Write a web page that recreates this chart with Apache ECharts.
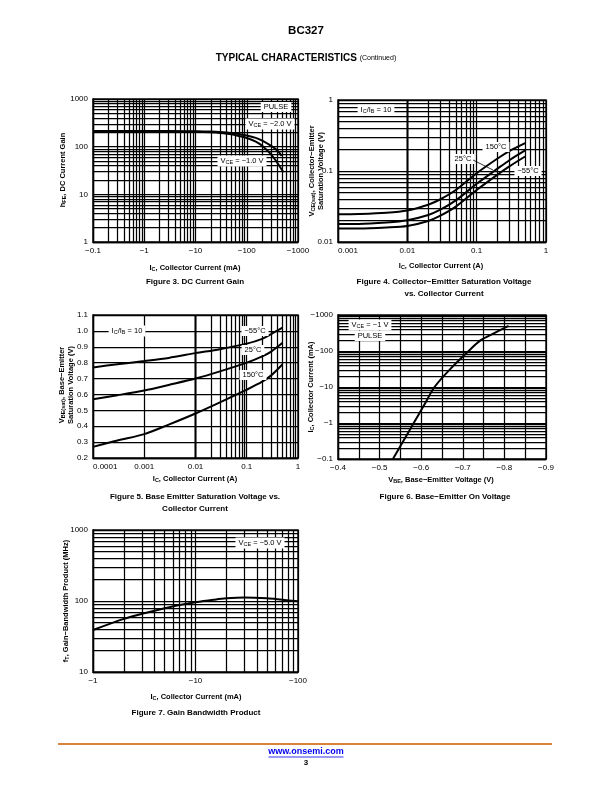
<!DOCTYPE html>
<html><head><meta charset="utf-8">
<script src="https://cdn.jsdelivr.net/npm/echarts@6/dist/echarts.min.js"></script>
<style>html,body{margin:0;padding:0;background:#fff}#c{width:612px;height:792px}</style>
</head><body><div id="c"></div>
<script>
// ---------- Figure 3: DC Current Gain ----------
const fig3Ic   = [-0.1, -0.3, -1, -3, -10, -20, -30, -50, -70, -100, -150, -200, -300, -400, -480];
const fig3Vce2 = [212, 212, 212, 212, 210, 207, 203, 194, 184, 172, 153, 134, 104, 82, 64];
const fig3Ic1  = [-0.1, -0.3, -1, -3, -10, -20, -30, -50, -70, -100, -150, -200, -300, -400, -520];
const fig3Vce1 = [207, 207, 207, 207, 205, 200, 194, 182, 168, 152, 127, 104, 68, 45, 29];
const fig3XTicks = ['−0.1', '−1', '−10', '−100', '−1000'];
const fig3YTicks = ['1', '10', '100', '1000'];

// ---------- Figure 4: VCE(sat) vs IC ----------
const fig4Ic    = [0.001, 0.002, 0.005, 0.01, 0.02, 0.03, 0.05, 0.1, 0.2, 0.3, 0.5];
const fig4T150  = [0.0245, 0.0248, 0.0258, 0.0278, 0.0335, 0.040, 0.054, 0.093, 0.150, 0.192, 0.247];
const fig4T25   = [0.018, 0.018, 0.0188, 0.0202, 0.024, 0.0285, 0.0385, 0.066, 0.108, 0.143, 0.195];
const fig4Tm55  = [0.0155, 0.0155, 0.016, 0.0168, 0.0198, 0.0235, 0.0315, 0.054, 0.089, 0.117, 0.160];

// ---------- Figure 5: VBE(sat) vs IC ----------
const fig5Ic    = [0.0001, 0.0003, 0.001, 0.003, 0.01, 0.03, 0.1, 0.2, 0.3, 0.5];
const fig5Tm55  = [0.77, 0.79, 0.81, 0.83, 0.86, 0.885, 0.92, 0.95, 0.98, 1.02];
const fig5T25   = [0.57, 0.595, 0.625, 0.66, 0.70, 0.745, 0.80, 0.84, 0.87, 0.925];
const fig5T150  = [0.27, 0.31, 0.35, 0.41, 0.48, 0.55, 0.63, 0.68, 0.72, 0.79];

// ---------- Figure 6: Base-Emitter On Voltage ----------
const fig6Vbe = [-0.532, -0.556, -0.582, -0.606, -0.632, -0.668, -0.714, -0.743, -0.772, -0.81];
const fig6Ic  = [-0.1, -0.3, -1, -3, -10, -30, -100, -200, -300, -500];

// ---------- Figure 7: Gain Bandwidth Product ----------
const fig7Ic = [-1, -2, -3, -5, -7, -10, -15, -20, -30, -50, -70, -100];
const fig7Ft = [39, 56, 66, 79, 88, 96, 104, 109, 112, 109, 104, 99];

const FONT = '"Liberation Sans", Arial, Helvetica, sans-serif';
const K = '#000';

function fmtNum(v){ return String(parseFloat(Number(v).toPrecision(6))); }
function negFmt(v){ return '\u2212' + fmtNum(v); }
function logMinors(min, max){
  const out = [];
  const a = Math.round(Math.log10(min)), b = Math.round(Math.log10(max));
  for (let e = a; e < b; e++) for (let k = 2; k <= 9; k++) out.push(parseFloat((k*Math.pow(10,e)).toPrecision(4)));
  return out;
}
function pairs(xs, ys, fx, fy){ return xs.map((x,i)=>[fx?fx(x):x, fy?fy(ys[i]):ys[i]]); }
const abs = Math.abs;

const LW = 1.25;
const BW = 1.4;
const gridStyle = {color: K, width: LW};
function axisBase(gi, type, min, max, fmt, extra, labelExtra){
  return Object.assign({
    type: type, gridIndex: gi, min: min, max: max,
    axisLine: {show: true, onZero: false, lineStyle: {color: K, width: BW}},
    axisTick: {show: false},
    splitLine: {show: true, lineStyle: gridStyle},
    axisLabel: Object.assign({color: K, fontSize: 8, fontFamily: FONT, formatter: fmt, margin: 5, showMinLabel: true, showMaxLabel: true, hideOverlap: false}, labelExtra || {}),
  }, extra || {});
}
function minorSeries(gi, xs, ys, corner){
  const data = xs.map(v=>({xAxis: v})).concat(ys.map(v=>({yAxis: v})));
  return {
    type: 'line', xAxisIndex: gi, yAxisIndex: gi, data: [corner], showSymbol: false, silent: true,
    lineStyle: {opacity: 0}, z: 1, animation: false,
    markLine: {silent: true, symbol: ['none','none'], label: {show: false}, animation: false,
      lineStyle: {color: K, width: LW, type: 'solid'}, emphasis: {disabled: true}, data: data}
  };
}
function curve(gi, data){
  return {type: 'line', xAxisIndex: gi, yAxisIndex: gi, data: data, smooth: 0.3, showSymbol: false,
    lineStyle: {color: K, width: 2}, z: 5, animation: false, silent: true};
}

const grids = [
  {left: 93, top: 99, width: 205, height: 143},
  {left: 338, top: 100, width: 208, height: 142},
  {left: 93, top: 315, width: 205, height: 143},
  {left: 338, top: 315, width: 208, height: 144},
  {left: 93, top: 530, width: 205, height: 142}
].map(g => Object.assign({show: true, borderColor: K, borderWidth: BW, backgroundColor: 'transparent', containLabel: false}, g));

const xAxes = [
  axisBase(0, 'log', 0.1, 1000, negFmt, {logBase: 10}),
  axisBase(1, 'log', 0.001, 1, fmtNum, {logBase: 10}, {alignMinLabel: 'left'}),
  axisBase(2, 'log', 0.0001, 1, fmtNum, {logBase: 10}, {alignMinLabel: 'left'}),
  axisBase(3, 'value', 0.4, 0.9, v => (Math.round(v*100) % 10 === 0 ? '\u2212' + v.toFixed(1) : ''), {interval: 0.05}),
  axisBase(4, 'log', 1, 100, negFmt, {logBase: 10})
];
const yAxes = [
  axisBase(0, 'log', 1, 1000, fmtNum, {logBase: 10}),
  axisBase(1, 'log', 0.01, 1, fmtNum, {logBase: 10}),
  axisBase(2, 'value', 0.2, 1.1, v => v.toFixed(1), {interval: 0.1}),
  axisBase(3, 'log', 0.1, 1000, negFmt, {logBase: 10}),
  axisBase(4, 'log', 10, 1000, fmtNum, {logBase: 10})
];

const series = [
  minorSeries(0, logMinors(0.1, 1000), logMinors(1, 1000), [0.1, 1]),
  curve(0, pairs(fig3Ic, fig3Vce2, abs)),
  curve(0, pairs(fig3Ic1, fig3Vce1, abs)),
  minorSeries(1, logMinors(0.001, 1), logMinors(0.01, 1), [0.001, 0.01]),
  curve(1, pairs(fig4Ic, fig4T150)),
  curve(1, pairs(fig4Ic, fig4T25)),
  curve(1, pairs(fig4Ic, fig4Tm55)),
  minorSeries(2, logMinors(0.0001, 1), [], [0.0001, 0.2]),
  curve(2, pairs(fig5Ic, fig5Tm55)),
  curve(2, pairs(fig5Ic, fig5T25)),
  curve(2, pairs(fig5Ic, fig5T150)),
  minorSeries(3, [], logMinors(0.1, 1000), [0.4, 0.1]),
  curve(3, pairs(fig6Vbe, fig6Ic, abs, abs)),
  minorSeries(4, logMinors(1, 100), logMinors(10, 1000), [1, 10]),
  curve(4, pairs(fig7Ic, fig7Ft, abs))
];

const sub = {fontSize: 5.5, fontFamily: FONT, fontWeight: 'bold', padding: [3, 0, 0, 0]};
const subN = {fontSize: 5.5, fontFamily: FONT, padding: [3, 0, 0, 0]};
function T(x, y, text, o){
  o = o || {};
  return {type: 'text', x: x, y: y, rotation: o.rot || 0, z: 100, silent: true,
    style: Object.assign({text: text, fontFamily: FONT, fontSize: o.size || 8, fontWeight: o.bold ? 'bold' : 'normal',
      fill: o.color || K, align: o.align || 'center', verticalAlign: 'middle',
      rich: {s: sub, n: subN, b: {fontSize: o.size || 8, fontFamily: FONT, fontWeight: 'bold'}, r: {fontSize: 7, fontFamily: FONT}}},
      o.box ? {backgroundColor: '#fff', padding: [1, 3, 1, 3]} : {})};
}
const R = Math.PI/2;
const graphics = [
  T(306, 31, 'BC327', {bold: true, size: 11.5}),
  T(306, 58, '{b|TYPICAL CHARACTERISTICS }{r|(Continued)}', {bold: true, size: 10}),
  // Fig 3
  T(63, 170, 'h{s|FE}, DC Current Gain', {bold: true, size: 7.5, rot: R}),
  T(195, 268, 'I{s|C}, Collector Current (mA)', {bold: true, size: 7.5}),
  T(195, 282, 'Figure 3. DC Current Gain', {bold: true, size: 8}),
  T(276, 107, 'PULSE', {size: 7.5, box: true}),
  T(270, 124, 'V{n|CE} = \u22122.0 V', {size: 7.5, box: true}),
  T(242, 161, 'V{n|CE} = \u22121.0 V', {size: 7.5, box: true}),
  // Fig 4
  T(312, 171, 'V{s|CE(sat)}, Collector\u2212Emitter', {bold: true, size: 7.5, rot: R}),
  T(321, 171, 'Saturation Voltage (V)', {bold: true, size: 7.5, rot: R}),
  T(441, 266, 'I{s|C}, Collector Current (A)', {bold: true, size: 7.5}),
  T(444, 282, 'Figure 4. Collector\u2212Emitter Saturation Voltage', {bold: true, size: 8}),
  T(444, 294, 'vs. Collector Current', {bold: true, size: 8}),
  T(376, 110, 'I{n|C}/I{n|B} = 10', {size: 7.5, box: true}),
  T(496, 147, '150\u00b0C', {size: 7.5, box: true}),
  T(463, 159, '25\u00b0C', {size: 7.5, box: true}),
  T(528, 171, '\u221255\u00b0C', {size: 7.5, box: true}),
  {type: 'line', z: 100, silent: true, shape: {x1: 473, y1: 160, x2: 493, y2: 170}, style: {stroke: K, lineWidth: 0.8}},
  // Fig 5
  T(62, 385, 'V{s|BE(sat)}, Base\u2212Emitter', {bold: true, size: 7.5, rot: R}),
  T(71, 385, 'Saturation Voltage (V)', {bold: true, size: 7.5, rot: R}),
  T(195, 479, 'I{s|C}, Collector Current (A)', {bold: true, size: 7.5}),
  T(195, 497, 'Figure 5. Base Emitter Saturation Voltage vs.', {bold: true, size: 8}),
  T(195, 509, 'Collector Current', {bold: true, size: 8}),
  T(127, 331, 'I{n|C}/I{n|B} = 10', {size: 7.5, box: true}),
  T(255, 331, '\u221255\u00b0C', {size: 7.5, box: true}),
  T(253, 350, '25\u00b0C', {size: 7.5, box: true}),
  T(253, 375, '150\u00b0C', {size: 7.5, box: true}),
  // Fig 6
  T(311, 387, 'I{s|C}, Collector Current (mA)', {bold: true, size: 7.5, rot: R}),
  T(441, 480, 'V{s|BE}, Base\u2212Emitter Voltage (V)', {bold: true, size: 7.5}),
  T(445, 497, 'Figure 6. Base\u2212Emitter On Voltage', {bold: true, size: 8}),
  T(370, 325, 'V{n|CE} = \u22121 V', {size: 7.5, box: true}),
  T(370, 336, 'PULSE', {size: 7.5, box: true}),
  // Fig 7
  T(66, 601, 'f{s|T}, Gain\u2212Bandwidth Product (MHz)', {bold: true, size: 7.5, rot: R}),
  T(196, 697, 'I{s|C}, Collector Current (mA)', {bold: true, size: 7.5}),
  T(196, 713, 'Figure 7. Gain Bandwidth Product', {bold: true, size: 8}),
  T(260, 543, 'V{n|CE} = \u22125.0 V', {size: 7.5, box: true}),
  // footer
  {type: 'line', silent: true, shape: {x1: 58, y1: 744, x2: 552, y2: 744}, style: {stroke: '#D9823B', lineWidth: 2}},
  T(306, 752, 'www.onsemi.com', {bold: true, size: 9, color: '#0000EE'}),
  {type: 'line', silent: true, shape: {x1: 268.5, y1: 757, x2: 343.5, y2: 757}, style: {stroke: '#0000EE', lineWidth: 0.8}},
  T(306, 763, '3', {bold: true, size: 8})
];

const chart = echarts.init(document.getElementById('c'), null, {renderer: 'canvas'});
chart.setOption({
  animation: false,
  backgroundColor: '#fff',
  grid: grids, xAxis: xAxes, yAxis: yAxes, series: series, graphic: graphics
});
</script></body></html>
